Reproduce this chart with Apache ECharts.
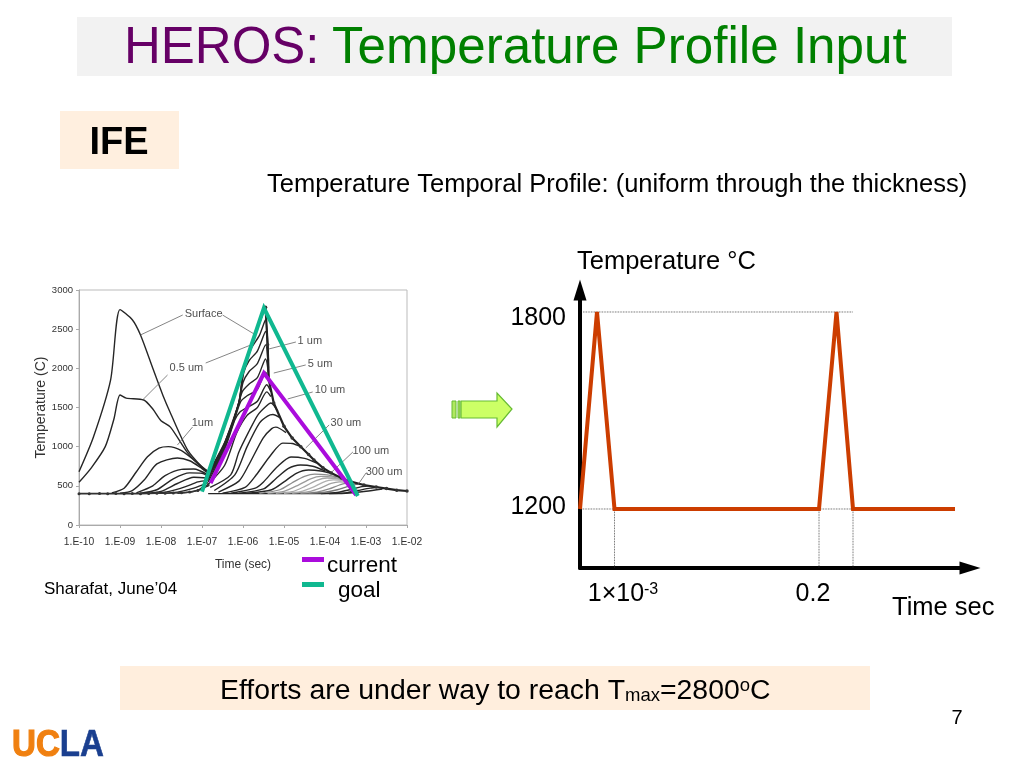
<!DOCTYPE html>
<html><head><meta charset="utf-8">
<style>html,body{margin:0;padding:0;background:#fff}#c{width:1024px;height:768px}</style>
<script src="https://cdn.jsdelivr.net/npm/echarts@6/dist/echarts.min.js"></script>
</head><body><div id="c"></div>
<script>
// ---- left chart: [log10(time), temperature]
const surface=[[-10,680],[-9.65,1120],[-9.23,1850],[-9,2750],[-8.7,2620],[-8.5,2425],[-8.2,2000],[-7.95,1650],[-7.77,1430],[-7.35,957],[-7,740],[-6.85,680]];
const half=[[-10,545],[-9.7,730],[-9.36,1000],[-9.15,1350],[-9,1660],[-8.85,1620],[-8.42,1596],[-8.2,1480],[-8,1330],[-7.77,1250],[-7.35,920],[-7,730],[-6.85,680]];
const e1=[[-9.2,410],[-8.9,470],[-8.6,680],[-8.33,870],[-8.05,980],[-7.82,1000],[-7.5,950],[-7.2,830],[-6.85,680]];
const e2=[[-9,405],[-8.7,440],[-8.4,580],[-8.1,780],[-7.6,855],[-7.3,820],[-7,720],[-6.85,660]];
const e3=[[-8.6,410],[-8.2,500],[-7.9,630],[-7.5,710],[-7.2,715],[-6.85,640]];
const e4=[[-8.5,405],[-8.1,450],[-7.7,590],[-7.3,665],[-7,660],[-6.85,620]];
const e5=[[-8.4,405],[-8,430],[-7.6,530],[-7.2,610],[-6.85,600]];
const e6=[[-8.2,405],[-7.8,430],[-7.4,490],[-7.1,550],[-6.85,570]];
const e7=[[-8,405],[-7.6,420],[-7.2,470],[-6.85,540]];
const e8=[[-7.6,405],[-7.2,430],[-6.85,500]];
const s1=[[-6.85,680],[-6.67,760],[-6.42,1085],[-6.1,1570],[-5.98,2016],[-5.66,2490],[-5.45,2780]];
const s2=[[-6.85,660],[-6.42,1085],[-6.1,1570],[-5.98,1990],[-5.8,2250],[-5.6,2420],[-5.45,2620],[-5.38,2100]];
const s3=[[-6.85,640],[-6.42,1075],[-6.1,1560],[-5.98,1950],[-5.85,2100],[-5.65,2220],[-5.45,2470],[-5.38,2000]];
const s4=[[-6.85,620],[-6.42,1060],[-6.1,1550],[-6,1820],[-5.85,1960],[-5.65,2060],[-5.45,2300],[-5.38,1950]];
const s5=[[-6.85,600],[-6.43,1040],[-6.13,1500],[-6.02,1700],[-5.85,1800],[-5.65,1880],[-5.45,2120],[-5.37,1870]];
const s6=[[-6.85,580],[-6.44,1000],[-6.15,1440],[-6.05,1580],[-5.9,1650],[-5.65,1730],[-5.45,1950],[-5.37,1850]];
const s7=[[-6.85,550],[-6.45,960],[-6.2,1340],[-6.08,1440],[-5.9,1500],[-5.65,1580],[-5.42,1790],[-5.32,1700]];
const c8=[[-6.85,520],[-6.45,760],[-6.15,1180],[-5.9,1400],[-5.65,1500],[-5.42,1700],[-5.32,1640]];
const c9=[[-6.8,480],[-6.3,640],[-6.1,932],[-5.85,1200],[-5.64,1404],[-5.45,1510],[-5.32,1557],[-5.15,1450]];
const c10=[[-6.7,440],[-6.2,640],[-5.9,1000],[-5.6,1300],[-5.4,1390],[-5.27,1410],[-5.1,1370]];
const c11=[[-6.6,420],[-6.1,560],[-5.86,766],[-5.51,1110],[-5.3,1230],[-5.2,1250],[-4.95,1180]];
const c12=[[-6.5,405],[-5.95,480],[-5.68,638],[-5.32,894],[-5.03,1045],[-4.8,1040],[-4.6,1000]];
const c13=[[-6.3,405],[-5.7,470],[-5.5,549],[-5.17,740],[-4.83,868],[-4.5,850],[-4.2,790]];
const c14=[[-6.1,405],[-5.5,460],[-5.2,590],[-4.9,720],[-4.6,766],[-4.3,750],[-4,690]];
const c15=[[-5.9,405],[-5.3,450],[-5,550],[-4.7,660],[-4.4,702],[-4.1,690],[-3.85,660]];
const g1=[[-5.6,405],[-5.1,450],[-4.8,540],[-4.5,620],[-4.25,650],[-3.95,640],[-3.7,610]];
const g2=[[-5.4,405],[-5,430],[-4.65,510],[-4.35,590],[-4.1,620],[-3.8,610],[-3.55,575]];
const g3=[[-5.2,405],[-4.8,425],[-4.5,490],[-4.2,570],[-3.95,600],[-3.7,590],[-3.45,560]];
const g4=[[-5,405],[-4.6,425],[-4.3,480],[-4.05,545],[-3.8,575],[-3.55,570],[-3.35,550]];
const g5=[[-4.8,405],[-4.4,425],[-4.1,475],[-3.85,530],[-3.65,550],[-3.4,545]];
const g6=[[-4.6,403],[-4.2,420],[-3.9,460],[-3.6,520],[-3.35,540]];
const g7=[[-4.4,403],[-4,418],[-3.7,450],[-3.4,500],[-3.15,525]];
const b1=[[-4.1,402],[-3.7,415],[-3.4,450],[-3.1,490],[-2.9,500]];
const b2=[[-3.9,400],[-3.5,410],[-3.2,440],[-2.9,470],[-2.7,482]];
const flat=[[-6.85,400],[-5,400],[-4,400],[-3.5,405],[-3,430],[-2.6,460]];
const baseMarked=[[-10,400],[-9.75,400],[-9.5,402],[-9.3,400],[-9.1,402],[-8.9,400],[-8.7,402],[-8.5,400],[-8.3,402],[-8.1,405],[-7.9,405],[-7.7,408],[-7.5,412],[-7.3,420],[-7.1,440],[-7,470],[-6.85,510]];
const envelope=[[-5.45,2780],[-5.4,2300],[-5.37,1850],[-5.25,1557],[-5,1260],[-4.8,1110],[-4.59,1000],[-4.4,900],[-4.27,830],[-4.05,730],[-3.85,664],[-3.6,600],[-3.37,553],[-3.05,511],[-2.75,485],[-2.5,465],[-2.25,445],[-2,434]];
const current=[[-6.79,536],[-5.49,1940],[-3.24,383]];
const goal=[[-7,425],[-5.49,2770],[-3.2,370]];
const darkCurves=[surface,half,e1,e2,e3,e4,e5,e6,e7,e8,s1,s2,s3,s4,s5,s6,s7,c8,c9,c10,c11,c12,c13,c14,c15,b1,b2,flat];
const greyCurves=[g1,g2,g3,g4,g5,g6,g7];
const xTickLabels=['1.E-10','1.E-09','1.E-08','1.E-07','1.E-06','1.E-05','1.E-04','1.E-03','1.E-02'];
const calloutNames=['Surface','0.5 um','1um','1 um','5 um','10 um','30 um','100 um','300 um'];
const calloutAt=[[-6.96,2694],[-7.38,2004],[-6.99,1302],[-4.37,2349],[-4.12,2055],[-3.88,1723],[-3.49,1302],[-2.88,945],[-2.56,677]];
const leaders=[[[-7.47,2681],[-8.5,2426]],[[-6.5,2681],[-5.69,2426]],[[-7.84,1915],[-8.45,1596]],[[-6.91,2068],[-5.81,2298]],[[-7.23,1251],[-7.6,1021]],[[-4.71,2336],[-5.37,2247]],[[-4.47,2043],[-5.25,1940]],[[-4.3,1698],[-4.91,1609]],[[-3.9,1277],[-4.47,983]],[[-3.32,932],[-3.86,664]],[[-3,664],[-3.2,511]]];
// ---- right chart: schematic time position, temperature
const pulseTime=[0,17,34.5,239,256.5,273,375];
const pulseTemp=[1200,1800,1200,1200,1800,1200,1200];
const yTicksRight=[1200,1800];
const xTicksRight=[34.5,239];
const guides=[[[3,1800],[273,1800]],[[0,1200],[273,1200]],[[34.5,1200],[34.5,1020]],[[239,1200],[239,1020]],[[273,1200],[273,1020]]];

const F='"Liberation Sans",Arial,sans-serif';
const toXY=a=>a.map(p=>[Math.pow(10,p[0]),p[1]]);
const lineBase={type:'line',xAxisIndex:0,yAxisIndex:0,symbol:'none',silent:true,animation:false};
const series=[];
darkCurves.forEach(d=>series.push({...lineBase,data:toXY(d),smooth:0.25,lineStyle:{color:'#262626',width:1.4}}));
greyCurves.forEach((d,i)=>series.push({...lineBase,data:toXY(d),smooth:0.25,lineStyle:{color:['#8c8c8c','#9a9a9a','#a6a6a6','#b0b0b0','#a0a0a0','#8c8c8c','#777'][i],width:1.3}}));
series.push({...lineBase,data:toXY(baseMarked),symbol:'circle',symbolSize:3,showSymbol:true,itemStyle:{color:'#333'},lineStyle:{color:'#333',width:1.6}});
series.push({...lineBase,data:toXY(envelope),symbol:'circle',symbolSize:3.5,showSymbol:true,itemStyle:{color:'#333'},lineStyle:{color:'#222',width:2.2}});
leaders.forEach(d=>series.push({...lineBase,data:toXY(d),lineStyle:{color:'#666',width:0.8}}));
series.push({type:'scatter',xAxisIndex:0,yAxisIndex:0,silent:true,animation:false,symbolSize:0,
  data:toXY(calloutAt).map((p,i)=>({value:p,name:calloutNames[i]})),
  label:{show:true,position:'inside',formatter:p=>p.name,fontFamily:F,fontSize:11,color:'#222'}});
series.push({...lineBase,name:'current',data:toXY(current),lineStyle:{color:'#AA0CDC',width:4,join:'miter'},itemStyle:{color:'#AA0CDC'},z:5});
series.push({...lineBase,name:'goal',data:toXY(goal),lineStyle:{color:'#10B890',width:4,join:'miter'},itemStyle:{color:'#10B890'},z:6});
guides.forEach(d=>series.push({type:'line',xAxisIndex:1,yAxisIndex:1,symbol:'none',silent:true,animation:false,data:d,lineStyle:{color:'#333',width:0.8,type:'dotted'}}));
series.push({type:'line',xAxisIndex:1,yAxisIndex:1,symbol:'none',silent:true,animation:false,z:4,
  data:pulseTime.map((t,i)=>[t,pulseTemp[i]]),lineStyle:{color:'#CC3D00',width:4,join:'miter',cap:'butt'}});

const txt=(text,x,y,size,extra={})=>({type:'text',x,y,z:20,silent:true,style:{text,fontFamily:F,fontSize:size,fill:'#000',textAlign:'left',textVerticalAlign:'middle',...extra}});
const graphic=[
 {type:'rect',z:-1,silent:true,shape:{x:77,y:17,width:875,height:59},style:{fill:'#F2F2F2'}},
 {type:'rect',z:-1,silent:true,shape:{x:60,y:111,width:119,height:58},style:{fill:'#FFEFDF'}},
 {type:'rect',z:-1,silent:true,shape:{x:120,y:666,width:750,height:44},style:{fill:'#FFEEDD'}},
 txt('HEROS: ',124,49,51,{fill:'#660066'}),
 txt('Temperature Profile Input',332,49,51.2,{fill:'#008000'}),
 txt('IFE',119,144,38,{fontWeight:'bold',textAlign:'center'}),
 txt('Temperature Temporal Profile: (uniform through the thickness)',267,185,25.5),
 txt('Temperature °C',577,262,25.5),
 txt('Time sec',892,608,25.5),
 txt('Sharafat, June’04',44,589,17),
 txt('7',957,718,20,{textAlign:'center'}),
 {type:'text',z:20,silent:true,x:220,y:691,style:{text:'Efforts are under way to reach T{s|max}=2800{o|o}C',fontFamily:F,fontSize:28.4,fill:'#000',textVerticalAlign:'middle',
   rich:{s:{fontFamily:F,fontSize:18.5,fill:'#000',padding:[10,0,0,0]},o:{fontFamily:F,fontSize:18.5,fill:'#000',padding:[0,0,10,0]}}}},
 {type:'polygon',z:20,silent:true,shape:{points:[[461,401],[497,401],[497,393],[512,409],[497,427],[497,418],[461,418]]},style:{fill:'#CCFF66',stroke:'#66BB33',lineWidth:1.2}},
 {type:'rect',z:20,silent:true,shape:{x:452,y:401,width:4,height:17},style:{fill:'#B0E860',stroke:'#66BB33',lineWidth:1}},
 {type:'rect',z:20,silent:true,shape:{x:458,y:401,width:2,height:17},style:{fill:'#B0E860',stroke:'#66BB33',lineWidth:1}},
 {type:'text',z:20,silent:true,x:12,y:746,scaleX:0.92,style:{text:'{u|UC}{l|LA}',fontFamily:F,fontSize:36,fontWeight:'bold',textVerticalAlign:'middle',
   rich:{u:{fontFamily:F,fontSize:36,fontWeight:'bold',fill:'#F08010',stroke:'#F08010',lineWidth:1.2},l:{fontFamily:F,fontSize:36,fontWeight:'bold',fill:'#1A3F8F',stroke:'#1A3F8F',lineWidth:0.6}}}}
];

const option={
 animation:false,backgroundColor:'#fff',
 grid:[{left:79,top:290,width:328,height:235,show:true,borderColor:'#bbb',borderWidth:1,backgroundColor:'#fff'},
       {left:580,top:290,width:390,height:278}],
 legend:{show:true,orient:'vertical',left:302,top:554.5,itemWidth:22,itemHeight:5,itemGap:2,icon:'rect',padding:0,
   data:['current','goal'],
   formatter:n=>n==='goal'?'{g|goal}':'{c|current}',
   textStyle:{rich:{c:{fontFamily:F,fontSize:22.5,color:'#000',padding:[13,0,0,-2]},g:{fontFamily:F,fontSize:22.5,color:'#000',padding:[13,0,0,9]}}}},
 xAxis:[
  {type:'log',logBase:10,gridIndex:0,min:1e-10,max:1e-2,
   name:'Time (sec)',nameLocation:'middle',nameGap:34,nameTextStyle:{fontFamily:F,fontSize:12,color:'#333'},
   axisLine:{lineStyle:{color:'#aaa'}},axisTick:{show:true,length:3,lineStyle:{color:'#aaa'}},minorTick:{show:false},splitLine:{show:false},minorSplitLine:{show:false},
   axisLabel:{fontFamily:F,fontSize:10.3,color:'#333',margin:12,hideOverlap:false,showMinLabel:true,showMaxLabel:true,
     formatter:v=>xTickLabels[Math.round(Math.log10(v))+10]}},
  {type:'value',gridIndex:1,min:0,max:390,
   axisLine:{show:true,onZero:false,lineStyle:{color:'#000',width:4},symbol:['none','triangle'],symbolSize:[13,21]},
   axisTick:{show:false},splitLine:{show:false},
   axisLabel:{customValues:xTicksRight,margin:14,color:'#000',fontFamily:F,fontSize:25,
     formatter:v=>v===239?'{p|0.2}':'{t|1×10}{e|-3}',
     rich:{p:{fontFamily:F,fontSize:25,color:'#000',padding:[0,12,0,0]},t:{fontFamily:F,fontSize:25,color:'#000',padding:[0,0,0,17]},e:{fontFamily:F,fontSize:16,color:'#000',padding:[0,0,9,0]}}}}
 ],
 yAxis:[
  {type:'value',gridIndex:0,min:0,max:3000,interval:500,
   name:'Temperature (C)',nameLocation:'middle',nameGap:18,nameRotate:90,nameTextStyle:{fontFamily:F,fontSize:14,color:'#333'},
   axisLine:{show:true,lineStyle:{color:'#aaa'}},axisTick:{show:true,length:3,lineStyle:{color:'#aaa'}},splitLine:{show:false},
   axisLabel:{fontFamily:F,fontSize:9.5,color:'#333',margin:6,formatter:v=>String(v)}},
  {type:'value',gridIndex:1,min:1020.3,max:1867,
   axisLine:{show:true,onZero:false,lineStyle:{color:'#000',width:4},symbol:['none','triangle'],symbolSize:[13,21]},
   axisTick:{show:false},splitLine:{show:false},
   axisLabel:{customValues:yTicksRight,margin:14,color:'#000',fontFamily:F,fontSize:25,
     formatter:v=>v===1800?'{h|1800}':'{l|1200}',
     rich:{h:{fontFamily:F,fontSize:25,color:'#000',padding:[12,0,0,0]},l:{fontFamily:F,fontSize:25,color:'#000',padding:[0,0,4,0]}}}}
 ],
 series,graphic
};
const chart=echarts.init(document.getElementById('c'),null,{renderer:'canvas'});
chart.setOption(option);
</script></body></html>
